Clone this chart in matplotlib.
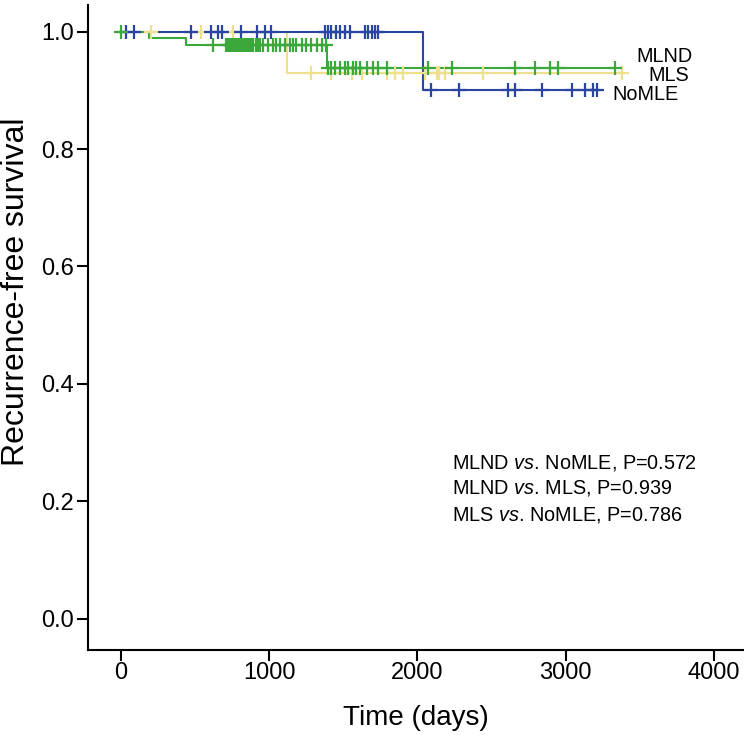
import numpy as np
import matplotlib
matplotlib.use("Agg")
import matplotlib.pyplot as plt

plt.rcParams['font.family'] = ['Liberation Sans', 'DejaVu Sans']
plt.rcParams['mathtext.fontset'] = 'custom'
plt.rcParams['mathtext.rm'] = 'Liberation Sans'
plt.rcParams['mathtext.it'] = 'Liberation Sans:italic'

# Kaplan-Meier curves: drop times (days) and survival levels
mlnd_drops = [191, 443, 1392]
mlnd_surv = [1.0, 0.989, 0.977, 0.938]
mlnd_end = 3332
mlnd_cens = [5, 623, 713, 725, 735, 745, 752, 760, 770, 780, 790, 800, 810, 822,
             835, 850, 865, 880, 895, 910, 925, 940, 960, 994, 1027, 1050, 1072,
             1106, 1140, 1162, 1185, 1219, 1252, 1286, 1320, 1354, 1387, 1399,
             1421, 1444, 1477, 1511, 1533, 1567, 1589, 1612, 1657, 1702, 1736,
             1792, 2073, 2231, 2658, 2793, 2894, 2950, 3332]

mls_drops = [1118]
mls_surv = [1.0, 0.930]
mls_end = 3377
mls_cens = [207, 544, 758, 1286, 1421, 1556, 1624, 1792, 1848, 1904, 2051,
            2129, 2147, 2186, 2444, 3377]

nomle_drops = [2040]
nomle_surv = [1.0, 0.900]
nomle_end = 3210
nomle_cens = [38, 90, 472, 612, 656, 683, 814, 922, 971, 1016, 1376, 1398,
              1421, 1450, 1477, 1511, 1545, 1646, 1668, 1691, 1713, 1736, 2089,
              2282, 2613, 2658, 2838, 3040, 3130, 3182, 3210]

groups = ["MLS", "NoMLE", "MLND"]
colors = {"MLND": "#3aa83a", "MLS": "#eee08c", "NoMLE": "#2a45a0"}
label_pos = {"MLND": (3474, 0.957), "MLS": (3555, 0.925), "NoMLE": (3312, 0.892)}

stats_lines = ["MLND $\\it{vs}$. NoMLE, P=0.572",
               "MLND $\\it{vs}$. MLS, P=0.939",
               "MLS $\\it{vs}$. NoMLE, P=0.786"]
stats_y = [0.266, 0.223, 0.177]

data = {
    "MLND": (mlnd_drops, mlnd_surv, mlnd_end, mlnd_cens),
    "MLS": (mls_drops, mls_surv, mls_end, mls_cens),
    "NoMLE": (nomle_drops, nomle_surv, nomle_end, nomle_cens),
}

fig = plt.figure(figsize=(7.44, 7.36), dpi=100)
ax = fig.add_axes([0.118, 0.117, 0.882, 0.876])

for g in groups:
    drops, surv, end, cens = data[g]
    t = np.array([0] + drops + [end])
    s = np.array(surv + [surv[-1]])
    ax.step(t, s, where='post', color=colors[g], lw=1.5, zorder=2)
    # censor marks sit on the step curve
    idx = np.searchsorted(np.array(drops), np.array(cens), side='right')
    cy = np.array(surv)[idx]
    ax.plot(cens, cy, ls='none', marker='+', ms=10, mew=1.6,
            color=colors[g], zorder=3)

for g in ["MLND", "MLS", "NoMLE"]:
    x, y = label_pos[g]
    ax.text(x, y, g, fontsize=14.3, va='center', ha='left')

for line, y in zip(stats_lines, stats_y):
    ax.text(2233, y, line, fontsize=14.3, va='center', ha='left')

ax.set_xlim(-222, 4202)
ax.set_ylim(-0.053, 1.045)
ax.set_xticks([0, 1000, 2000, 3000, 4000])
ax.set_yticks([0.0, 0.2, 0.4, 0.6, 0.8, 1.0])
ax.set_yticklabels(["0.0", "0.2", "0.4", "0.6", "0.8", "1.0"])
ax.tick_params(labelsize=17, width=1.5, length=8)
ax.tick_params(axis='x', pad=1)
ax.tick_params(axis='y', pad=2)
for side in ["top", "right"]:
    ax.spines[side].set_visible(False)
for side in ["left", "bottom"]:
    ax.spines[side].set_linewidth(1.5)

ax.set_xlabel("Time (days)", fontsize=20, labelpad=15)
ax.set_ylabel("Recurrence-free survival", fontsize=23)
ax.yaxis.set_label_coords(-0.086, 0.555)

fig.savefig("out.png", dpi=100)
